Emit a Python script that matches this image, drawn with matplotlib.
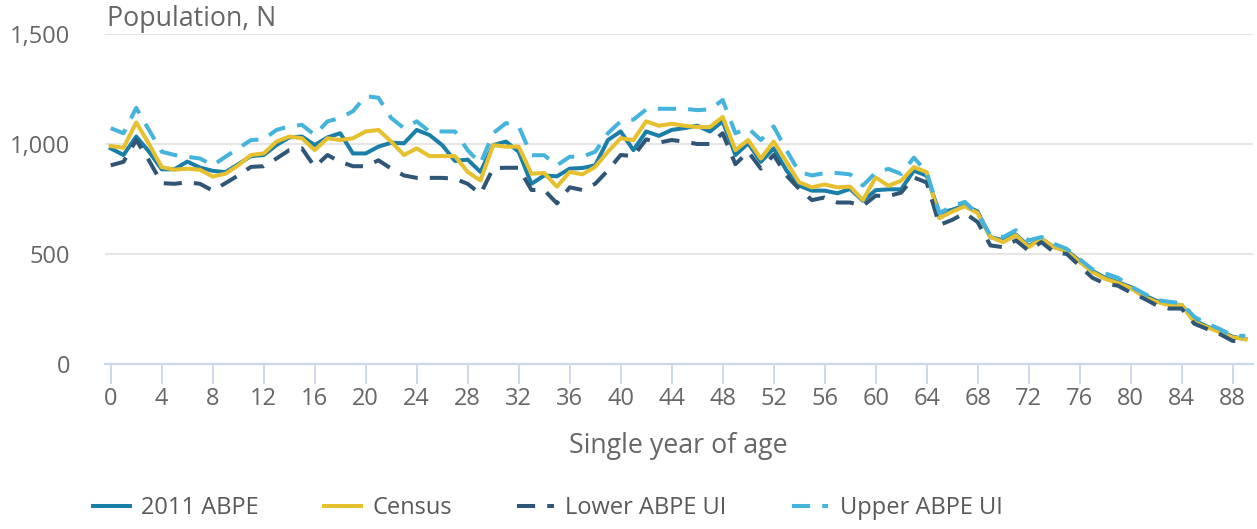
import numpy as np
import matplotlib.pyplot as plt
from matplotlib.ticker import FuncFormatter

plt.rcParams['font.family'] = ['Open Sans', 'DejaVu Sans']

# Edades (0 a 89)
ages = list(range(90))

abpe_2011 = [980, 950, 1034, 965, 885, 885, 920, 893, 878, 872,
             908, 945, 950, 995, 1030, 1034, 995, 1030, 1049, 957,
             957, 988, 1006, 1003, 1064, 1041, 995, 923, 929, 873,
             995, 1011, 965, 819, 857, 853, 888, 891, 903, 1018,
             1057, 972, 1057, 1037, 1064, 1072, 1083, 1057, 1103, 950,
             1003, 919, 980, 880, 811, 788, 788, 776, 796, 742,
             790, 794, 794, 879, 856, 686, 701, 721, 693, 577,
             562, 588, 536, 570, 531, 515, 469, 423, 392, 372,
             350, 314, 288, 272, 268, 198, 170, 149, 124, 113]

census = [991, 983, 1098, 1000, 895, 883, 888, 883, 852, 865,
          903, 950, 957, 1011, 1034, 1026, 972, 1026, 1018, 1026,
          1057, 1064, 1011, 950, 980, 945, 945, 945, 873, 834,
          995, 988, 988, 865, 868, 806, 873, 862, 896, 965,
          1026, 1018, 1103, 1083, 1092, 1083, 1077, 1077, 1123, 972,
          1018, 934, 1011, 919, 826, 803, 816, 803, 806, 745,
          848, 810, 833, 895, 872, 663, 693, 717, 686, 577,
          554, 585, 531, 570, 531, 511, 464, 418, 387, 368,
          345, 306, 283, 268, 268, 190, 167, 144, 121, 113]

lower_ui = [903, 919, 1018, 925, 822, 819, 826, 819, 788, 822,
            857, 896, 899, 934, 972, 980, 896, 950, 919, 899,
            899, 926, 888, 857, 846, 846, 846, 842, 819, 773,
            890, 892, 892, 791, 791, 730, 803, 791, 819, 880,
            950, 945, 1021, 1006, 1018, 1011, 1000, 1000, 1049, 908,
            965, 888, 950, 857, 796, 745, 757, 734, 734, 719,
            765, 763, 779, 848, 825, 632, 655, 686, 645, 539,
            531, 562, 515, 554, 508, 500, 446, 392, 365, 356,
            325, 299, 268, 252, 252, 183, 159, 136, 105, 102]

upper_ui = [1072, 1049, 1164, 1064, 965, 950, 942, 934, 903, 942,
            980, 1018, 1021, 1064, 1080, 1087, 1041, 1103, 1118, 1149,
            1218, 1210, 1118, 1072, 1103, 1057, 1057, 1057, 972, 911,
            1049, 1095, 1080, 949, 949, 903, 942, 942, 965, 1049,
            1103, 1111, 1157, 1160, 1160, 1160, 1154, 1157, 1200, 1049,
            1072, 1018, 1080, 972, 873, 857, 868, 868, 862, 811,
            870, 887, 864, 938, 872, 686, 717, 737, 681, 585,
            577, 608, 562, 577, 546, 523, 477, 430, 412, 392,
            353, 322, 291, 283, 276, 214, 183, 159, 128, 128]

fig = plt.figure(figsize=(12.57, 5.29), dpi=100)
ax = fig.add_axes([105 / 1257, 1 - 364 / 529, 1148 / 1257, 330 / 529])

lw = 2.9
ax.plot(ages, abpe_2011, color='#1a7fa8', lw=lw, label='2011 ABPE', solid_joinstyle='round')
ax.plot(ages, census, color='#e6c02e', lw=lw, label='Census', solid_joinstyle='round')
ax.plot(ages, lower_ui, color='#2f5677', lw=lw, ls=(0, (4.5, 3)), label='Lower ABPE UI')
ax.plot(ages, upper_ui, color='#45b4dd', lw=lw, ls=(0, (4.5, 3)), label='Upper ABPE UI')

ax.set_xlim(-0.45, 89.6)
ax.set_ylim(0, 1500)
ax.set_yticks([0, 500, 1000, 1500])
ax.yaxis.set_major_formatter(FuncFormatter(lambda v, p: f'{int(v):,}'))
ax.set_xticks(range(0, 89, 4))

ax.grid(axis='y', color='#e6e6e6', lw=1.5)
ax.set_axisbelow(True)
for s in ['top', 'right', 'left']:
    ax.spines[s].set_visible(False)
ax.spines['bottom'].set_color('#ccd6eb')
ax.spines['bottom'].set_linewidth(1.5)
ax.tick_params(axis='x', length=14.5, width=1.3, color='#ccd6eb', labelsize=17,
               labelcolor='#666666', pad=2)
ax.tick_params(axis='y', length=0, labelsize=17, labelcolor='#666666', pad=25)

fig.text(107 / 1257, 1 - 19 / 529, 'Population, N', fontsize=19.3, color='#666666',
         ha='left', va='center')
fig.text(678 / 1257, 1 - 446 / 529, 'Single year of age', fontsize=19.3, color='#666666',
         ha='center', va='center')

leg = fig.legend(loc='center left', bbox_to_anchor=(93 / 1257, 1 - 508 / 529), ncol=4,
                 frameon=False, fontsize=17, handlelength=1.55, handletextpad=0.5,
                 columnspacing=2.75, borderpad=0, borderaxespad=0)
for t in leg.get_texts():
    t.set_color('#595959')

plt.savefig('out.png', dpi=100)
